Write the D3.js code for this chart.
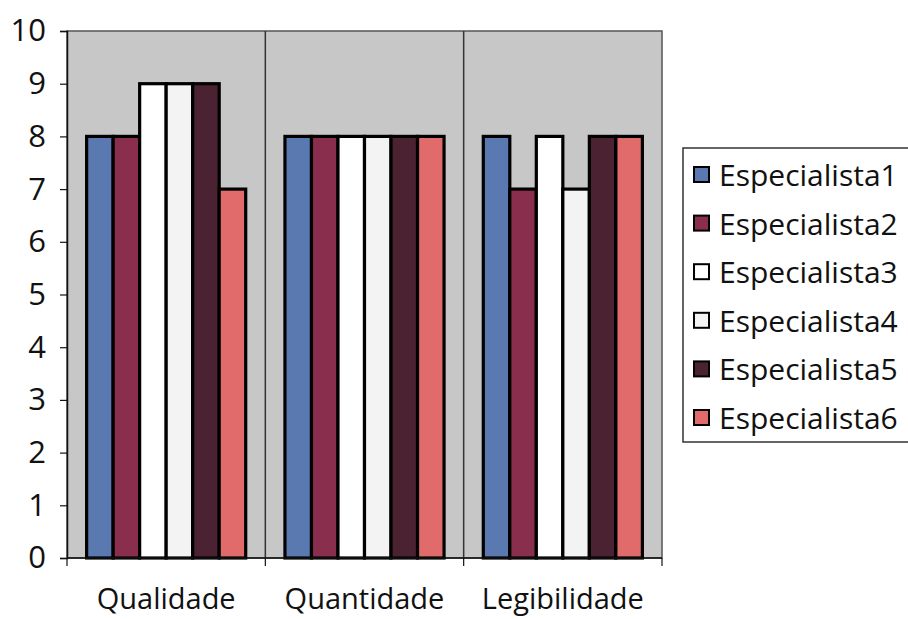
<!DOCTYPE html>
<html>
<head>
<meta charset="utf-8">
<script src="https://cdn.jsdelivr.net/npm/d3@7"></script>
<style>
  html, body { margin: 0; padding: 0; background: #fff; }
  svg { display: block; }
  text { font-family: "Open Sans", "DejaVu Sans", sans-serif; fill: #111; }
</style>
</head>
<body>
<svg id="chart" width="908" height="619"></svg>
<script>
// Evaluation scores per criterion, one series per specialist
const categories = ["Qualidade", "Quantidade", "Legibilidade"];
const seriesNames = ["Especialista1", "Especialista2", "Especialista3", "Especialista4", "Especialista5", "Especialista6"];
const especialista1 = [8, 8, 8];
const especialista2 = [8, 8, 7];
const especialista3 = [9, 8, 8];
const especialista4 = [9, 8, 7];
const especialista5 = [9, 8, 8];
const especialista6 = [7, 8, 8];
const yTicks = [0, 1, 2, 3, 4, 5, 6, 7, 8, 9, 10];
const colors = ["#5b79b1", "#8a2e4e", "#ffffff", "#f3f3f3", "#4b2232", "#e16b6b"];

const seriesValues = [especialista1, especialista2, especialista3, especialista4, especialista5, especialista6];

const svg = d3.select("#chart");
const plot = { left: 67, right: 662, top: 31, bottom: 558 };

const x0 = d3.scaleBand().domain(categories).range([plot.left, plot.right]).paddingInner(0).paddingOuter(0);
const x1 = d3.scaleBand().domain(seriesNames).range([0, x0.bandwidth()]).paddingOuter(0.74).paddingInner(0);
const y = d3.scaleLinear().domain([0, 10]).range([plot.bottom, plot.top]);

// Plot background
svg.append("rect")
  .attr("x", plot.left).attr("y", plot.top)
  .attr("width", plot.right - plot.left).attr("height", plot.bottom - plot.top)
  .attr("fill", "#c7c7c7")
  .attr("stroke", "#555").attr("stroke-width", 1.5);

// Category separators
svg.append("g").selectAll("line")
  .data(categories.slice(1))
  .join("line")
  .attr("x1", d => x0(d)).attr("x2", d => x0(d))
  .attr("y1", plot.top).attr("y2", plot.bottom)
  .attr("stroke", "#333").attr("stroke-width", 1.5);

// Bars
const groups = svg.append("g").selectAll("g")
  .data(categories)
  .join("g")
  .attr("transform", d => `translate(${x0(d)},0)`);

groups.selectAll("rect")
  .data((c, ci) => seriesNames.map((s, si) => ({ s, si, v: seriesValues[si][ci] })))
  .join("rect")
  .attr("x", d => x1(d.s))
  .attr("y", d => y(d.v))
  .attr("width", x1.bandwidth())
  .attr("height", d => y(0) - y(d.v))
  .attr("fill", d => colors[d.si])
  .attr("stroke", "#000")
  .attr("stroke-width", 3.2);

// Y axis
const yAxis = d3.axisLeft(y).tickValues(yTicks).tickSize(7).tickPadding(14).tickFormat(d3.format("d"));
const gy = svg.append("g").attr("transform", `translate(${plot.left},0)`).call(yAxis);
gy.select(".domain").attr("stroke", "#111").attr("stroke-width", 1.5);
gy.selectAll(".tick line").attr("stroke", "#111").attr("stroke-width", 1.2);
gy.selectAll(".tick text").attr("font-size", 31).attr("fill", "#111")
  .style("font-family", "'Open Sans', sans-serif");

// X axis: ticks at category boundaries, labels centred in each band
svg.append("line")
  .attr("x1", plot.left).attr("x2", plot.right)
  .attr("y1", plot.bottom).attr("y2", plot.bottom)
  .attr("stroke", "#111").attr("stroke-width", 1.5);
const boundaries = categories.map(c => x0(c)).concat([plot.right]);
svg.append("g").selectAll("line")
  .data(boundaries)
  .join("line")
  .attr("x1", d => d).attr("x2", d => d)
  .attr("y1", plot.bottom).attr("y2", plot.bottom + 8)
  .attr("stroke", "#111").attr("stroke-width", 1.2);
svg.append("g").selectAll("text")
  .data(categories)
  .join("text")
  .attr("x", d => x0(d) + x0.bandwidth() / 2)
  .attr("y", 609)
  .attr("text-anchor", "middle")
  .attr("font-size", 29)
  .text(d => d);

// Legend
const legend = svg.append("g");
legend.append("rect")
  .attr("x", 683).attr("y", 148).attr("width", 240).attr("height", 294)
  .attr("fill", "#fff").attr("stroke", "#333").attr("stroke-width", 1.5);
const rowY = d3.scalePoint().domain(seriesNames).range([175, 418]);
const items = legend.selectAll("g.item")
  .data(seriesNames)
  .join("g").attr("class", "item")
  .attr("transform", d => `translate(0,${rowY(d)})`);
items.append("rect")
  .attr("x", 694).attr("y", -8).attr("width", 15).attr("height", 15)
  .attr("fill", (d, i) => colors[i]).attr("stroke", "#000").attr("stroke-width", 2);
items.append("text")
  .attr("x", 719).attr("y", 11)
  .attr("font-size", 30)
  .text(d => d);
</script>
</body>
</html>
